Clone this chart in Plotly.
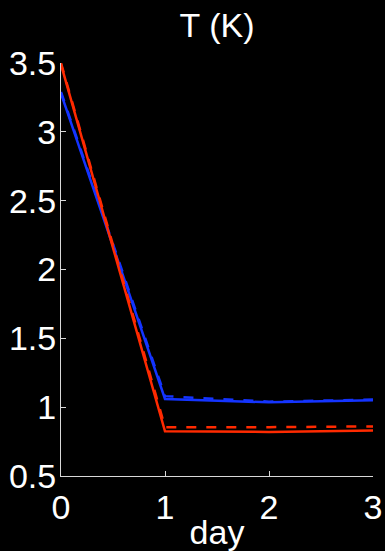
import plotly.graph_objects as go

# Temperature over three days
days = [0, 1, 2, 3]
red_solid = [3.49, 0.825, 0.82, 0.83]
red_dashed = [3.50, 0.855, 0.855, 0.86]
blue_solid = [3.28, 1.06, 1.035, 1.05]
blue_dashed = [3.29, 1.08, 1.04, 1.055]

y_ticks = [0.5, 1, 1.5, 2, 2.5, 3, 3.5]
y_tick_text = ["0.5", "1", "1.5", "2", "2.5", "3", "3.5"]
x_ticks = [0, 1, 2, 3]

RED = "#ff2a00"
BLUE = "#1434ff"
FONT = "Liberation Sans, Arial, Helvetica, sans-serif"
FS = 34

fig = go.Figure()
fig.add_trace(go.Scatter(x=days, y=blue_dashed, mode="lines",
                         line=dict(color=BLUE, width=2.5, dash="10px,10px")))
fig.add_trace(go.Scatter(x=days, y=blue_solid, mode="lines",
                         line=dict(color=BLUE, width=2.5)))
fig.add_trace(go.Scatter(x=days, y=red_dashed, mode="lines",
                         line=dict(color=RED, width=2.5, dash="10px,10px")))
fig.add_trace(go.Scatter(x=days, y=red_solid, mode="lines",
                         line=dict(color=RED, width=2.5)))

axis_common = dict(
    showgrid=False, zeroline=False, showline=True, linecolor="#d8d8d8",
    linewidth=1, ticks="inside", ticklen=5, tickcolor="#d8d8d8", tickwidth=1,
    automargin=False,
    tickfont=dict(size=FS, color="white", family=FONT),
)

fig.update_layout(
    width=385, height=551,
    paper_bgcolor="black", plot_bgcolor="black",
    margin=dict(l=61, r=12, t=63, b=74.5),
    showlegend=False,
    title=dict(text="T (K)", x=0.5, xref="paper", xanchor="center",
               y=1 - 25 / 551, yref="container", yanchor="middle",
               font=dict(size=FS, color="white", family=FONT)),
    xaxis=dict(range=[0, 3], tickvals=x_ticks, ticklabelstandoff=1,
               **axis_common,
               title=dict(text="day", standoff=5,
                          font=dict(size=FS, color="white", family=FONT))),
    yaxis=dict(range=[0.5, 3.5], tickvals=y_ticks, ticktext=y_tick_text,
               ticklabelstandoff=-3, **axis_common),
)

fig.write_html("out.html")
